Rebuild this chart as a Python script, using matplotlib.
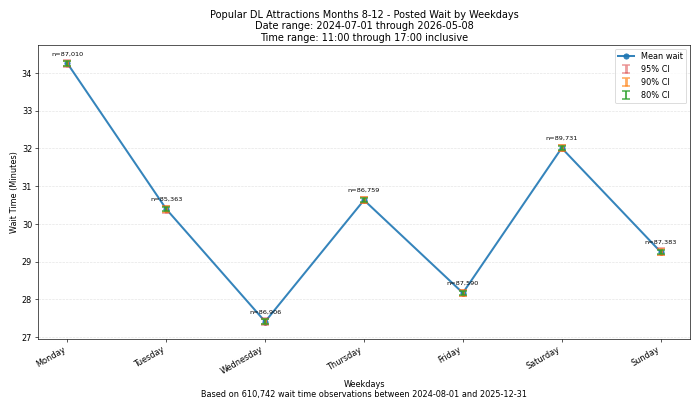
import numpy as np
import matplotlib
matplotlib.use("Agg")
import matplotlib.pyplot as plt

days = ['Monday', 'Tuesday', 'Wednesday', 'Thursday', 'Friday', 'Saturday', 'Sunday']
mean_wait = [34.25, 30.39, 27.41, 30.63, 28.17, 32.01, 29.26]
counts = [87010, 85363, 86906, 86759, 87590, 89731, 87383]
ci95 = [0.09, 0.09, 0.09, 0.09, 0.09, 0.09, 0.09]
ci90 = [0.075, 0.075, 0.075, 0.075, 0.075, 0.075, 0.075]
ci80 = [0.06, 0.06, 0.06, 0.06, 0.06, 0.06, 0.06]

# 12x7 inch figure rendered at ~58 dpi gives 700x408
fig, ax = plt.subplots(figsize=(12, 7))
x = np.arange(len(days))

ax.plot(x, mean_wait, marker='o', markersize=6.5, color='tab:blue', alpha=0.9,
        linewidth=2.5, label='Mean wait', zorder=2)
ax.errorbar(x, mean_wait, yerr=ci95, fmt='none', ecolor='tab:red', alpha=0.45,
            elinewidth=3.5, capsize=5, capthick=2, label='95% CI', zorder=3)
ax.errorbar(x, mean_wait, yerr=ci90, fmt='none', ecolor='tab:orange', alpha=0.65,
            elinewidth=3.5, capsize=5, capthick=2, label='90% CI', zorder=4)
ax.errorbar(x, mean_wait, yerr=ci80, fmt='none', ecolor='tab:green', alpha=0.8,
            elinewidth=2.5, capsize=5, capthick=2, label='80% CI', zorder=5)

for xi, yi, n in zip(x, mean_wait, counts):
    ax.annotate(f'n={n:,}', (xi, yi + 0.09), xytext=(0, 5), textcoords='offset points',
                ha='center', va='bottom', fontsize=8)

ax.set_xticks(x)
ax.set_xticklabels(days, rotation=30, ha='right')
ax.set_ylim(26.95, 34.75)
ax.grid(axis='y', linestyle='--', alpha=0.35)
ax.set_xlabel('Weekdays\nBased on 610,742 wait time observations between 2024-08-01 and 2025-12-31')
ax.set_ylabel('Wait Time (Minutes)')
ax.set_title('Popular DL Attractions Months 8-12 - Posted Wait by Weekdays\n'
             'Date range: 2024-07-01 through 2026-05-08\n'
             'Time range: 11:00 through 17:00 inclusive', pad=5)
ax.legend(loc='upper right')

fig.subplots_adjust(left=0.054, right=0.986, top=0.89, bottom=0.169)
fig.savefig('out.png', dpi=700 / 12)
